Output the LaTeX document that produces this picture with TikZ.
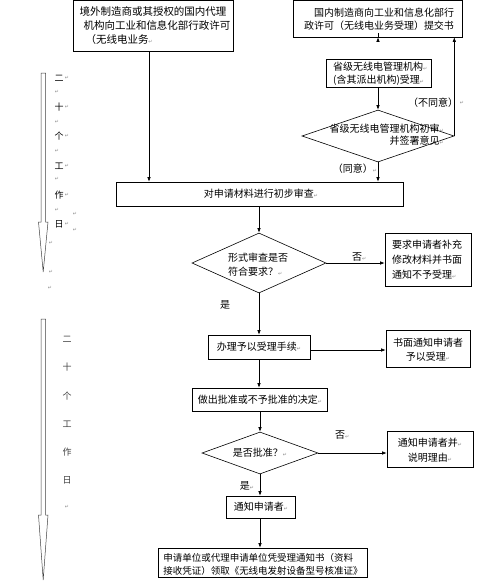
\documentclass[tikz,border=0pt]{standalone}
\usepackage{fontspec}
\setmainfont{Noto Sans CJK SC}
\newfontfamily\symfont{DejaVu Sans}
\usetikzlibrary{arrows.meta,shapes.geometric}
\newcommand{\rt}{{\symfont\fontsize{5}{5}\selectfont\textcolor{black!45}{↵}}}
\begin{document}
\begin{tikzpicture}[x=1pt,y=-1pt,
  font=\fontsize{10}{13}\selectfont,
  bx/.style={draw, line width=0.6pt, inner sep=0pt},
  dia/.style={draw, diamond, line width=0.6pt, inner sep=0pt},
  txt/.style={inner sep=0pt},
  arr/.style={-{Latex[length=4.5pt,width=3.5pt]}, line width=0.6pt},
  hol/.style={draw=black!75, line width=0.5pt},
  colch/.style={inner sep=0pt, font=\fontsize{9}{9}\selectfont},
  mk/.style={inner sep=0pt}]
\useasboundingbox (0,0) rectangle (500,582);

% ---- boxes ----
\node[bx, minimum width=160pt, minimum height=51pt] (A) at (153,26) {};
\node[txt, align=left, font=\fontsize{10.5}{14}\selectfont] (At) at (155,26)
  {境外制造商或其授权的国内代理\\\hspace{4pt}机构向工业和信息化部行政许可\\\hspace{6pt}（无线电业务\rt};

\node[bx, minimum width=169pt, minimum height=36.5pt] (B) at (377.5,18.75) {};
\node[txt, align=right] (Bt) at (379,19)
  {国内制造商向工业和信息化部行\\政许可（无线电业务受理）提交书};

\node[bx, minimum width=105pt, minimum height=28pt] (C) at (378.5,73) {};
\node[txt, align=left, anchor=west] (Ct) at (333,73.5)
  {省级无线电管理机构\rt\\(含其派出机构)受理\rt};

\node[dia, minimum width=152pt, minimum height=52pt] (D) at (378,136) {};
\node[txt, align=right, anchor=east, font=\fontsize{10}{12}\selectfont] (Dt) at (444,135)
  {省级无线电管理机构初审\rt\\并签署意见\rt};

\node[bx, minimum width=287pt, minimum height=24pt] (E) at (259.5,194) {};
\node[txt] (Et) at (261,194) {对申请材料进行初步审查\rt};

\node[dia, minimum width=134pt, minimum height=60pt] (F) at (259,263) {};
\node[txt, align=left, anchor=west, font=\fontsize{10}{14}\selectfont] (Ft) at (228,265)
  {形式审查是否\\符合要求？\rt};

\node[bx, minimum width=86pt, minimum height=53pt] (G) at (428,259.5) {};
\node[txt, align=left, anchor=west, font=\fontsize{10}{15}\selectfont] (Gt) at (392,260)
  {要求申请者补充\\修改材料并书面\\通知不予受理\rt};

\node[bx, minimum width=102pt, minimum height=24pt] (H) at (259,347) {};
\node[txt] (Ht) at (259,347) {办理予以受理手续\rt};

\node[bx, minimum width=84pt, minimum height=37pt] (I) at (428,348.5) {};
\node[txt, align=center, font=\fontsize{10}{14}\selectfont] (It) at (428,350)
  {书面通知申请者\\予以受理\rt};

\node[bx, minimum width=135pt, minimum height=23pt] (J) at (259.5,399.5) {};
\node[txt] (Jt) at (260,399.5) {做出批准或不予批准的决定\rt};

\node[dia, minimum width=116pt, minimum height=42pt] (K) at (260,453) {};
\node[txt] (Kt) at (260,453) {是否批准？\rt};

\node[bx, minimum width=86pt, minimum height=36pt] (L) at (430,449) {};
\node[txt, align=center, font=\fontsize{10}{15}\selectfont] (Lt) at (430,450)
  {通知申请者并\rt\\说明理由\rt};

\node[bx, minimum width=69pt, minimum height=22pt] (M) at (260.5,507) {};
\node[txt] (Mt) at (261,507) {通知申请者\rt};

\node[bx, minimum width=209pt, minimum height=29pt] (N) at (262.5,562.5) {};
\node[txt, align=left, font=\fontsize{9.5}{13}\selectfont] (Nt) at (263,564)
  {申请单位或代理申请单位凭受理通知书（资料\\接收凭证）领取《无线电发射设备型号核准证》};

% ---- labels ----
\node[txt] (l1) at (433,103) {（不同意）};
\node[mk] (l1m) at (462,103) {\rt};
\node[txt] (l2) at (355,169) {（同意）\rt};
\node[txt, anchor=west] (l3) at (352,257) {否\rt};
\node[txt] (l4) at (225,305) {是};
\node[txt, anchor=west] (l5) at (335,435) {否\rt};
\node[txt] (l6) at (247,486) {是\rt};

% ---- connectors ----
\draw[arr] ([xshift=-4pt]A.south) -- ([xshift=-4pt]A.south |- E.north);
\draw[arr] (B.south -| D.north) -- (B.south -| D.north |- C.north);
\draw[arr] (C.south -| D.north) -- (D.north);
\draw[arr] (D.east) -- (D.east |- B.south);
\draw[arr] (D.south) -- (D.south |- E.north);
\draw[arr] (F.north |- E.south) -- (F.north);
\draw[arr] (F.east) -- (F.east -| G.west);
\draw[arr] (F.south) -- (F.south |- H.north);
\draw[arr] ([yshift=-3pt]H.east) -- ([yshift=-3pt]H.east -| I.west);
\draw[arr] (H.south) -- (H.south |- J.north);
\draw[arr] (K.north |- J.south) -- (K.north);
\draw[arr] (K.east) -- (K.east -| L.west);
\draw[arr] (K.south) -- (K.south |- M.north);
\draw[arr] (K.south |- M.south) -- (K.south |- N.north);

% ---- hollow time arrows ----
\draw[hol] (41,73) -- (45.5,73) -- (45.5,222) -- (48,222) -- (43.2,272)
  -- (38.5,222) -- (41,222) -- cycle;
\draw[hol] (41,319) -- (45.5,319) -- (45.5,515) -- (48,515) -- (43.2,580)
  -- (38.5,515) -- (41,515) -- cycle;

% ---- first column text ----
\foreach \ch/\yy [count=\i] in {二/78,十/107,个/136,工/166,作/195,日/224}{
  \node[colch] (c\i) at (59,\yy) {\ch};
  \node[mk] (cm\i) at (67,\yy) {\rt};
}
\foreach \yy [count=\i] in {92,122,151,179,210}{
  \node[mk] (cb\i) at (57,\yy) {\rt};
}
\node[mk] (cx1) at (75,214) {\rt};
\node[mk] (cx2) at (75,230) {\rt};
\node[mk] (cx3) at (51,243) {\rt};
\node[mk] (cx4) at (51,272) {\rt};
\node[mk] (cx5) at (50,288) {\rt};

% ---- second column text ----
\foreach \ch/\yy [count=\i] in {二/339,十/367,个/396,工/424,作/452,日/480}{
  \node[colch, text=black!75] (d\i) at (67,\yy) {\ch};
}
\node[mk] (dm) at (67,507) {\rt};
\end{tikzpicture}
\end{document}
